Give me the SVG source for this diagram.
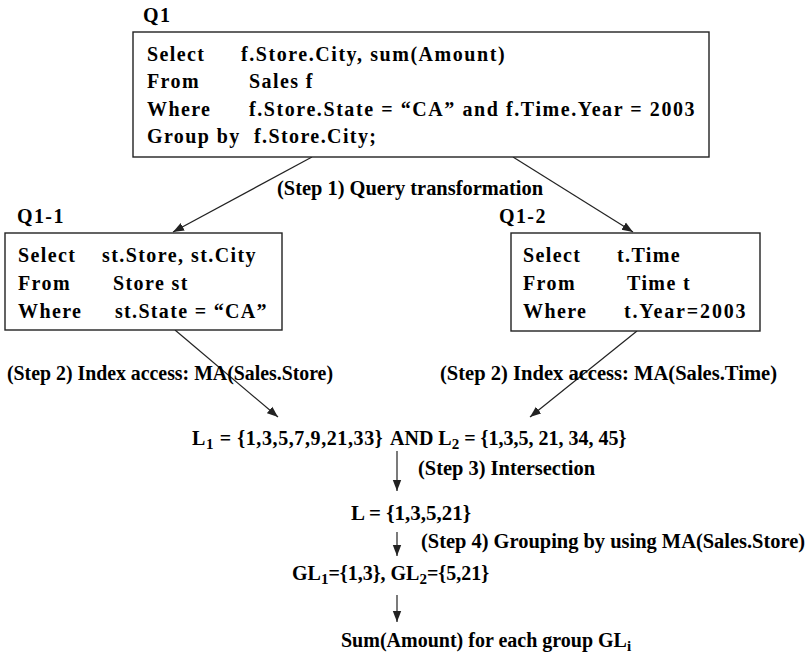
<svg xmlns="http://www.w3.org/2000/svg" width="812" height="657" viewBox="0 0 812 657">
<style>
.bg{fill:#fff}
.box{fill:#fff;stroke:#222;stroke-width:1.4}
text{font-family:"Liberation Serif","DejaVu Serif","Noto Serif",Tinos,"Times New Roman",Times,FreeSerif,serif;font-weight:bold;fill:#000}
.code{font-size:20px;letter-spacing:1.4px}
.lbl{font-size:20px}
.row{font-size:20px;letter-spacing:0.6px}
.sub{font-size:15px}
.edge{stroke:#222;stroke-width:1.2;fill:none;marker-end:url(#ah)}
</style>
<defs>
<marker id="ah" markerUnits="userSpaceOnUse" markerWidth="12" markerHeight="10" refX="11" refY="5" orient="auto">
<path d="M0,0.8 L11,5 L0,9.2 Z" fill="#222"/>
</marker>
</defs>
<rect class="bg" x="0" y="0" width="812" height="657"/>

<g id="connectors">
<line class="edge" x1="312" y1="157" x2="173" y2="232"/>
<line class="edge" x1="513" y1="157" x2="633" y2="232"/>
<line class="edge" x1="175" y1="330" x2="278" y2="417"/>
<line class="edge" x1="637" y1="331" x2="530" y2="417"/>
<line class="edge" x1="397" y1="451" x2="397" y2="491"/>
<line class="edge" x1="397" y1="532" x2="397" y2="556"/>
<line class="edge" x1="397" y1="595" x2="397" y2="622"/>
<text class="lbl" x="277" y="195" textLength="266" lengthAdjust="spacingAndGlyphs">(Step 1) Query transformation</text>
<text class="lbl" x="7" y="380" textLength="326" lengthAdjust="spacingAndGlyphs">(Step 2) Index access: MA(Sales.Store)</text>
<text class="lbl" x="440" y="380" textLength="337" lengthAdjust="spacingAndGlyphs">(Step 2) Index access: MA(Sales.Time)</text>
<text class="lbl" x="418" y="475" textLength="177" lengthAdjust="spacingAndGlyphs">(Step 3) Intersection</text>
<text class="lbl" x="421" y="548" textLength="384" lengthAdjust="spacingAndGlyphs">(Step 4) Grouping by using MA(Sales.Store)</text>
</g>

<g id="Q1">
<text class="code" x="143" y="22">Q1</text>
<rect class="box" x="133" y="32" width="576" height="125"/>
<text class="code" x="147" y="61">Select</text>
<text class="code" x="241" y="61" textLength="265" lengthAdjust="spacing">f.Store.City, sum(Amount)</text>
<text class="code" x="147" y="88">From</text>
<text class="code" x="249" y="88">Sales f</text>
<text class="code" x="147" y="116">Where</text>
<text class="code" x="249" y="116" textLength="447" lengthAdjust="spacing">f.Store.State = “CA” and f.Time.Year = 2003</text>
<text class="code" x="147" y="143">Group by</text>
<text class="code" x="254" y="143">f.Store.City;</text>
</g>

<g id="Q1-1">
<text class="code" x="17" y="223">Q1-1</text>
<rect class="box" x="5" y="233" width="277" height="97"/>
<text class="code" x="18" y="262">Select</text>
<text class="code" x="102" y="262" textLength="155" lengthAdjust="spacing">st.Store, st.City</text>
<text class="code" x="18" y="290">From</text>
<text class="code" x="113" y="290">Store st</text>
<text class="code" x="18" y="318">Where</text>
<text class="code" x="115" y="318" textLength="153" lengthAdjust="spacing">st.State = “CA”</text>
</g>

<g id="Q1-2">
<text class="code" x="499" y="223">Q1-2</text>
<rect class="box" x="511" y="233" width="249" height="98"/>
<text class="code" x="523" y="262">Select</text>
<text class="code" x="617" y="262">t.Time</text>
<text class="code" x="523" y="290">From</text>
<text class="code" x="627" y="290">Time t</text>
<text class="code" x="523" y="318">Where</text>
<text class="code" x="624" y="318" textLength="123" lengthAdjust="spacing">t.Year=2003</text>
</g>

<g id="L1L2">
<text class="row" x="192" y="445">L<tspan class="sub" dy="4">1</tspan><tspan dy="-4"> = {1,3,5,7,9,21,33}</tspan></text>
<text class="lbl" x="390" y="445">AND L<tspan class="sub" dy="4">2</tspan><tspan dy="-4"> = {1,3,5, 21, 34, 45}</tspan></text>
</g>

<g id="L">
<text class="lbl" x="351" y="520" textLength="120" lengthAdjust="spacingAndGlyphs">L = {1,3,5,21}</text>
</g>

<g id="GL">
<text class="lbl" x="292" y="580">GL<tspan class="sub" dy="4">1</tspan><tspan dy="-4">={1,3}, GL</tspan><tspan class="sub" dy="4">2</tspan><tspan dy="-4">={5,21}</tspan></text>
</g>

<g id="Sum">
<text class="lbl" x="341" y="647">Sum(Amount) for each group GL<tspan class="sub" dy="4">i</tspan></text>
</g>
</svg>
